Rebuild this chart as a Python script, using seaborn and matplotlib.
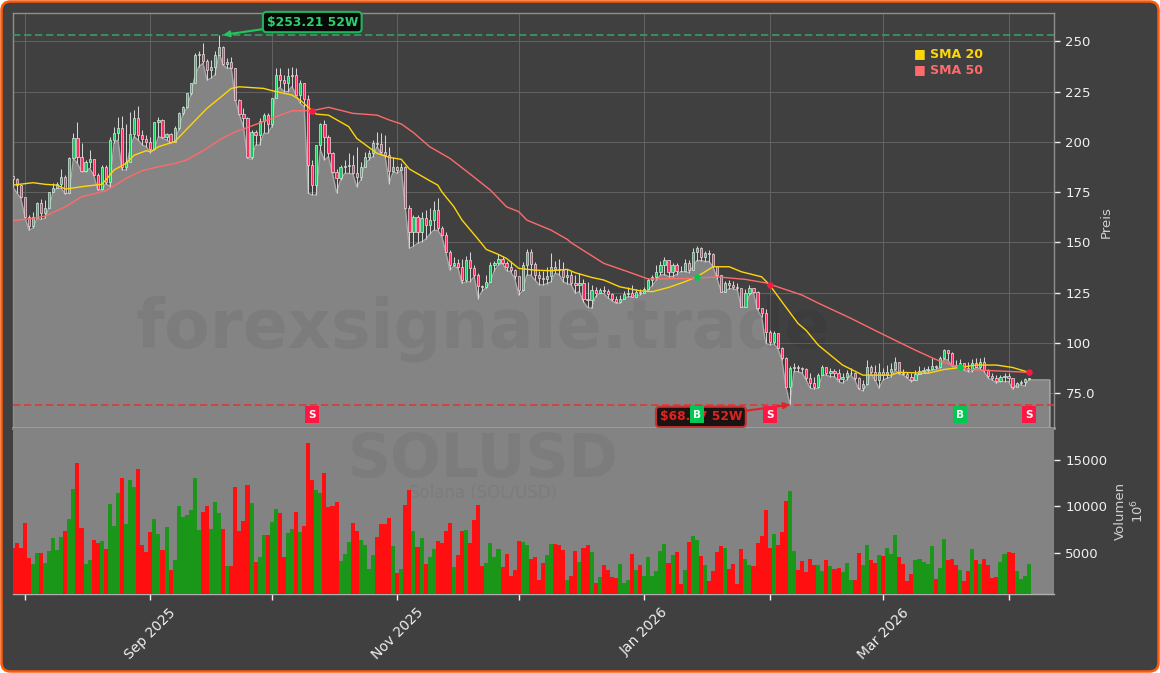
import matplotlib
matplotlib.use('Agg')
import matplotlib.pyplot as plt
import matplotlib.dates as mdates
from matplotlib.patches import FancyBboxPatch
from matplotlib.transforms import IdentityTransform
import numpy as np
import pandas as pd
import seaborn as sns

# daily candles
start_date = '2025-07-29'
first_open = 183.0

closes = [
    181.5, 178.5, 172.4, 162.8, 158.1, 162.5, 169.4, 164.5, 167.0, 175.2,
    177.2, 179.0, 182.7, 174.7, 191.8, 201.7, 192.6, 185.7, 189.8, 191.3,
    183.5, 176.4, 187.6, 180.2, 200.9, 204.2, 207.0, 187.5, 190.0, 204.0,
    212.0, 203.5, 201.5, 199.8, 196.7, 209.7, 210.8, 202.6, 203.7, 200.0,
    206.7, 214.2, 217.2, 224.1, 229.1, 243.2, 243.8, 240.4, 235.7, 237.0,
    243.0, 247.3, 238.7, 239.9, 236.6, 220.8, 213.8, 211.7, 192.3, 205.0,
    203.4, 210.5, 213.4, 208.9, 221.6, 233.3, 230.8, 229.1, 232.8, 233.3,
    223.3, 229.1, 221.1, 188.5, 178.5, 198.4, 208.9, 202.6, 194.3, 185.2,
    182.2, 187.6, 188.1, 188.5, 184.3, 182.7, 187.6, 192.6, 194.3, 199.3,
    199.0, 195.2, 193.5, 185.7, 187.6, 186.0, 187.6, 166.9, 155.3, 162.8,
    155.3, 162.0, 158.5, 161.0, 166.0, 157.0, 153.6, 145.4, 138.7, 139.9,
    137.6, 131.3, 141.2, 137.1, 133.7, 128.4, 127.6, 130.4, 138.7, 139.6,
    142.0, 139.6, 137.9, 136.2, 133.4, 126.3, 138.7, 145.4, 139.2, 133.7,
    132.1, 131.8, 133.4, 137.9, 136.6, 136.2, 132.6, 133.6, 129.6, 128.8,
    129.6, 122.1, 121.6, 126.3, 124.6, 126.3, 126.0, 124.3, 122.1, 120.5,
    122.1, 124.3, 124.6, 123.0, 125.1, 124.6, 126.6, 131.3, 132.9, 135.4,
    138.7, 141.5, 135.4, 138.7, 135.9, 135.7, 139.9, 136.2, 145.4, 147.0,
    142.5, 144.9, 144.2, 138.2, 133.7, 125.5, 129.6, 128.8, 127.6, 127.1,
    117.7, 124.6, 127.1, 125.5, 117.2, 114.7, 105.6, 100.6, 104.7, 97.3,
    92.3, 78.2, 87.3, 88.2, 87.3, 86.8, 82.4, 79.9, 78.3, 84.0,
    88.2, 85.2, 86.2, 85.2, 81.9, 83.2, 84.9, 85.2, 82.4, 77.5,
    79.6, 88.2, 85.7, 81.6, 85.7, 84.0, 85.7, 86.8, 90.6, 84.9,
    84.5, 82.9, 81.6, 84.5, 86.2, 86.5, 86.8, 88.5, 87.8, 92.3,
    96.7, 94.9, 89.0, 88.5, 89.8, 87.3, 86.5, 90.1, 88.2, 90.6,
    86.5, 83.6, 82.4, 81.3, 82.9, 83.6, 82.4, 78.3, 80.3, 80.8,
    81.9, 82.4,
]

highs = [
    183, 182.2, 178.5, 172.7, 163.6, 165.3, 170.2, 171.6, 171, 175.2,
    179.4, 180.2, 186.3, 183.5, 192.6, 204.6, 209.7, 199.3, 191, 196,
    191.3, 184.3, 188.5, 188.5, 202.2, 207.6, 212.2, 212.9, 209, 215,
    215.8, 217.8, 205.9, 203.4, 202.6, 210, 212.5, 211.2, 204.2, 204.2,
    207.9, 215, 217.8, 224.5, 229.1, 244, 245, 249, 241, 240.7,
    245.3, 253.21, 247.7, 241.5, 242, 236.6, 221.2, 216.7, 212.2, 205.9,
    205.9, 211.7, 214.2, 214.2, 221.6, 236.6, 236.6, 233.3, 236.6, 237.4,
    236.6, 230.8, 229.1, 223.3, 191, 198.4, 209.5, 210.9, 203.4, 195.2,
    186.5, 188.5, 191, 194.3, 193.5, 197.6, 190, 195.2, 196, 200.9,
    205, 204.2, 203.4, 197.6, 192.6, 188, 189.3, 188.1, 168.6, 163.6,
    163.6, 165, 166, 167, 170.6, 171.9, 158, 155, 146, 142.9,
    142, 142, 143, 145, 139, 135, 129, 134, 140.5, 141,
    144.2, 143, 141, 141, 137, 132, 140.5, 146.7, 146.7, 140.4,
    136, 136, 138, 144.9, 141, 142, 140.4, 137, 136, 134,
    135, 132, 130.5, 128.8, 127.6, 127.5, 128.5, 126.6, 125, 123.5,
    124, 126, 127.8, 128.8, 127, 127, 128, 132.5, 134, 139,
    141, 142.8, 140, 140, 140, 138.5, 142, 141.5, 147, 148.3,
    147.5, 145.5, 146, 144.5, 135, 134, 131, 131.5, 131, 130,
    127.5, 127, 128.7, 127.5, 126, 116, 117, 106.5, 106, 105,
    98, 93, 88.5, 89.8, 89, 88.2, 87.3, 84.9, 83.2, 84.9,
    89, 87.3, 87.3, 86.8, 86.8, 84.9, 86.5, 87.3, 85.7, 83.2,
    81.6, 91.5, 89, 89, 89.8, 87.3, 89, 89.8, 93, 89.8,
    86.8, 85.7, 84.9, 86.5, 88.5, 87.8, 88.5, 92.3, 89, 93.4,
    97.2, 96.4, 95.4, 91.5, 91.8, 89.8, 90.6, 91.8, 92.3, 92.3,
    92.8, 86.8, 84.9, 84, 84, 84.9, 85.2, 81.9, 80.8, 81.6,
    82.4, 82.8,
]

lows = [
    177.7, 174.7, 171.9, 162.8, 156.1, 157, 162, 161.4, 162, 167.7,
    175.2, 176.9, 176.9, 174, 174.4, 191.8, 189.3, 185.2, 185.2, 186.8,
    183.5, 176, 176, 179.3, 177.7, 199.3, 200.9, 186, 186, 196.8,
    202.6, 200.9, 198.4, 197.6, 194.6, 195.9, 202.6, 201.8, 200.9, 199.6,
    200.1, 205.9, 213.4, 216.7, 223.3, 232.4, 237.4, 239.1, 230.8, 231.6,
    233.3, 244, 238.2, 236.6, 236.6, 220.8, 213.4, 207.6, 191.8, 191.3,
    198.4, 198.4, 204.2, 204.2, 207.6, 225.8, 227.1, 225, 225, 227.5,
    223.3, 219.2, 217.5, 174.4, 173.6, 173.6, 196, 191, 192.6, 184.3,
    174.7, 181, 184.3, 184.3, 184, 177.7, 181, 189.3, 191, 192.6,
    197.6, 194.3, 192.6, 179.3, 185.2, 184.3, 186, 166.4, 147, 148,
    149.5, 150.3, 151.5, 154, 156, 156, 153, 145, 136.2, 138.2,
    137.2, 129.6, 130.4, 130.4, 133, 122.1, 126, 127.3, 130.4, 136,
    138.7, 139.5, 136, 135.4, 132, 123.8, 126, 133.7, 133.7, 131.3,
    129, 128.8, 129.5, 130.4, 134.6, 134, 130.4, 129.5, 128.8, 124.6,
    125.5, 120.5, 117.7, 117.2, 123, 124.6, 124.6, 122.5, 121, 119.8,
    119.7, 122, 123, 123, 123.8, 123.8, 125, 126.3, 128.5, 131.3,
    133.7, 134, 133, 133, 134, 135.4, 135.4, 135, 137.9, 140.9,
    141, 140.5, 140.5, 137.9, 132, 125.5, 125.5, 127, 126.8, 126.3,
    117.7, 118, 124, 124.6, 116.3, 113, 99.8, 99, 99.5, 97.3,
    91.5, 78.2, 69.3, 85.7, 85.7, 84.9, 81.6, 77.5, 77, 77.5,
    84, 84, 83.2, 83.2, 80.8, 79.9, 81.6, 84, 81.6, 77,
    76.2, 79.1, 84.9, 81.6, 77.5, 81.6, 82.4, 83.2, 86.5, 84.5,
    84, 82.5, 80.8, 81.6, 84.9, 84.9, 85.7, 86.5, 86.8, 87.5,
    91.8, 91.5, 88.5, 88, 87.8, 86.5, 85.7, 85.7, 87.9, 87,
    85.7, 82.4, 81.6, 79.9, 80.8, 80.8, 80.8, 77, 79.1, 79.1,
    78.6, 81.6,
]

volumes = [
    5540, 6080, 5540, 8250, 4420, 3770, 4930, 4930, 3845, 5180,
    6590, 5290, 6700, 7350, 8650, 11895, 14750, 7670, 3770, 4210,
    6370, 6080, 6260, 5400, 10270, 7890, 11460, 13085, 8105, 12870,
    12110, 14060, 5830, 5070, 7240, 8650, 7020, 5290, 7780, 3120,
    4210, 10050, 8860, 9080, 9620, 13085, 7455, 9405, 10050, 7560,
    10490, 9300, 7560, 3560, 3560, 12110, 7350, 8430, 12330, 10380,
    3990, 4530, 6915, 6915, 8320, 9730, 9300, 4530, 7130, 7560,
    9405, 7240, 7890, 16875, 12870, 11790, 11460, 13630, 9945, 10050,
    10490, 4100, 4855, 6155, 8210, 7350, 6370, 5830, 3230, 4750,
    6700, 8105, 8105, 8755, 5720, 2800, 3230, 10160, 11790, 7350,
    5610, 6590, 3770, 4530, 5400, 6260, 6050, 7350, 8210, 3450,
    4750, 7350, 7455, 6050, 8540, 10160, 3560, 3880, 6050, 4530,
    5400, 3450, 4855, 2470, 3120, 6260, 6155, 5830, 4315, 4530,
    2040, 3880, 4750, 5940, 5940, 5830, 5290, 2040, 2470, 5180,
    3990, 5505, 5830, 5070, 1715, 2365, 3665, 3120, 2365, 2255,
    3770, 1715, 2040, 4855, 3120, 3665, 2470, 4530, 2470, 3015,
    5180, 5940, 3880, 4750, 5070, 1605, 3120, 6155, 6805, 6370,
    4640, 3665, 1930, 3015, 5070, 5720, 5505, 3230, 3770, 1605,
    5400, 4315, 3665, 3560, 6050, 6805, 9620, 5505, 7020, 5830,
    7240, 10595, 11680, 5180, 3120, 4100, 2905, 4315, 3665, 3665,
    3015, 4210, 3560, 3230, 3340, 2905, 3880, 2040, 2040, 4965,
    3665, 5830, 4210, 3880, 4750, 4640, 5505, 4855, 6915, 4530,
    3770, 1930, 2690, 4210, 4315, 3990, 3770, 5720, 2150, 3340,
    6480, 4210, 4315, 3665, 3120, 1930, 3015, 5400, 4210, 3770,
    4315, 3665, 2255, 2365, 3990, 4855, 5070, 4965, 3015, 2150,
    2470, 3770,
]

# r = falling day, g = rising day
directions = list(
    "rrrrrggrgg" "gggrggrrgg" "rrgrgggrgg" "grrrrggrgr" "gggggggrrg"
    "ggrgrrrrrg" "rggrggrrgg" "rgrrrggrrr" "rgggrrgggg" "rrrrgrgrrg"
    "rgrggrrrrg" "rrgrrrrggg" "grrrrrggrr" "rrggrrrgrr" "grrgrgrrrr"
    "gggrgrgggg" "ggrgrrgrgg" "rgrrrrgrrr" "rggrrrrrgr" "rrggrrrrrg"
    "grgrrgggrr" "ggrrgrgggr" "rrrgggggrg" "grrrgrrgrg" "rrrrggrrgg"
    "gg"
)

# moving averages, read at the bends of the lines (index = day number)
sma20_idx = [0, 5, 8, 11, 13, 17, 22, 23, 25, 28, 30, 33, 34, 36, 40, 44, 48, 51, 54, 56,
             62, 64, 69, 71, 74, 75, 78, 83, 85, 90, 93, 96, 98, 103, 105, 106, 109, 111, 115, 117,
             120, 122, 125, 129, 133, 137, 139, 143, 146, 150, 155, 158, 162, 166, 169, 173, 177, 180, 185, 187,
             190, 194, 196, 199, 205, 210, 217, 219, 226, 230, 234, 238, 243, 247, 251]
sma20 = [178.5, 179.7, 178.9, 178.5, 176.5, 177.7, 178.9, 181, 186, 189.3, 193.4, 195.6, 195.1, 197.6, 200.1, 208.4, 216.7, 221.6, 226.6, 227.4,
         226.6, 225.5, 223.3, 220.8, 215.5, 213.8, 213.3, 207.6, 201.7, 194.3, 192.3, 191.3, 186.5, 180.7, 178.5, 175.2, 167.7, 161.1, 151.5, 146.5,
         144, 142, 137.1, 136.2, 135.9, 136.6, 134.9, 132.6, 131.3, 127.9, 125.9, 125.5, 127.6, 130.4, 132.9, 137.9, 137.9, 135.4, 132.9, 128.8,
         120.5, 109.7, 106.25, 98.9, 89, 84, 84, 85.4, 84.9, 86.8, 87.8, 89, 89, 87.8, 85.4]

sma50_idx = [0, 5, 8, 13, 17, 23, 28, 32, 36, 40, 43, 48, 51, 55, 59, 64, 69, 74, 78, 84,
             90, 93, 96, 99, 103, 108, 113, 118, 122, 125, 127, 133, 137, 138, 146, 152, 157, 168, 174, 181,
             186, 195, 199, 207, 213, 218, 223, 228, 232, 236, 242, 251]
sma50 = [160.8, 162, 163.1, 167.7, 172.7, 175.7, 181.8, 185.7, 187.6, 189.3, 191, 196.8, 200.9, 205, 207.9, 211.7, 215.5, 215.5, 217.2, 214.2,
         213.3, 210.9, 208.9, 204.6, 197.6, 191.8, 184, 176, 167.7, 165.3, 161.1, 156.1, 151.5, 149.8, 139.6, 135.4, 131.8, 132.1, 132.9, 131.6,
         129.9, 123.8, 119.8, 112.3, 106.25, 101.3, 96.4, 91.8, 89, 86.8, 86.2, 85.4]

# signals: day number, price on the sma cross, type
signal_idx = [74, 169, 187, 234, 251]
signal_price = [215.5, 132.9, 128.8, 87.8, 85.4]
signal_type = ['S', 'B', 'S', 'B', 'S']

year_high = 253.21
year_low = 69.3

month_ticks = ['2025-08-01', '2025-09-01', '2025-10-01', '2025-11-01', '2025-12-01',
               '2026-01-01', '2026-02-01', '2026-03-01', '2026-04-01']
month_labels = ['', 'Sep 2025', '', 'Nov 2025', '', 'Jan 2026', '', 'Mar 2026', '']
price_ticks = [75, 100, 125, 150, 175, 200, 225, 250]
price_labels = ['75.0', '100', '125', '150', '175', '200', '225', '250']
volume_ticks = [5000, 10000, 15000]

BG = '#404040'
AREA = '#878787'
TXT = '#f0f0f0'
GRID = '#636363'
UP = '#19c95f'
DOWN = '#ff2d62'

sns.set_theme(style='dark')
plt.rcParams['font.family'] = 'DejaVu Sans'

opens = [first_open] + closes[:-1]
dates = pd.date_range(start_date, periods=len(closes), freq='D')
xs = mdates.date2num(dates)
df = pd.DataFrame({'x': xs, 'open': opens, 'close': closes, 'high': highs, 'low': lows,
                   'volume': volumes, 'dir': directions})

W, H = 1160, 673
fig = plt.figure(figsize=(W / 100, H / 100), dpi=100, facecolor='white')
L, R = 12.7, 1054.3
ax = fig.add_axes([L / W, (H - 428) / H, (R - L) / W, 415 / H])
ax_vol = fig.add_axes([L / W, (H - 594.3) / H, (R - L) / W, 166.3 / H])

# rounded orange frame around everything
frame = FancyBboxPatch((1.5, 1.5), W - 3, H - 3, boxstyle='round,pad=0,rounding_size=9',
                       transform=IdentityTransform(), facecolor=BG, edgecolor='#ff5a0a',
                       linewidth=1.8, zorder=-10)
fig.add_artist(frame)

xmin, xmax = xs[0], xs[0] + 257.3
area_end = xs[0] + 256.2

# --- price panel ---
ax.set_facecolor(BG)
ax.set_axisbelow(True)
ax.grid(True, color=GRID, linewidth=0.7)
ax.fill_between(np.append(xs, area_end), np.append(lows, lows[-1]), 40,
                color=AREA, alpha=0.97, linewidth=0, zorder=1)
ax.plot(np.append(xs, [area_end, area_end]), np.append(lows, [lows[-1], 57]),
        color='#a8a8a8', linewidth=1, zorder=1.5)

ax.text(0.4515, 0.2386, 'forexsignale.trade', transform=ax.transAxes, ha='center', va='center',
        fontsize=48, fontweight='bold', color='black', alpha=0.055, zorder=2)

# candles
ax.vlines(df['x'], df['low'], df['high'], color='#d4d4d4', linewidth=0.75, zorder=3)
body_colors = [UP if c >= o else DOWN for o, c in zip(opens, closes)]
ax.bar(df['x'], (df['close'] - df['open']).abs(), bottom=df[['open', 'close']].min(axis=1),
       width=0.55, color=body_colors, edgecolor='#e4e4e4', linewidth=0.5, zorder=4)

# moving averages
sns.lineplot(x=xs[sma20_idx], y=sma20, color='#ffd60a', linewidth=1, estimator=None, ax=ax, zorder=5)
sns.lineplot(x=xs[sma50_idx], y=sma50, color='#ff6b6b', linewidth=1, estimator=None, ax=ax, zorder=5)

# 52 week lines
ax.axhline(year_high, color='#3a9c62', linestyle='--', linewidth=1.2, dashes=(4.4, 2.2), zorder=6)
ax.axhline(year_low, color='#dc3a3a', linestyle='--', linewidth=1.2, dashes=(4.4, 2.2), zorder=6)

ax.annotate(f'${year_high:.2f} 52W', xy=(xs[52], year_high), xytext=(xs[74], 259.6),
            ha='center', va='center', fontsize=8.8, fontweight='bold', color='#2fd06f', zorder=9,
            bbox=dict(boxstyle='round,pad=0.3', fc='#050a07', ec='#22b45c', lw=1.5),
            arrowprops=dict(arrowstyle='-|>', color='#22c55e', lw=1.5, shrinkA=0, shrinkB=0))
ax.annotate('$68.97 52W', xy=(xs[192], year_low), xytext=(xs[170], 63.2),
            ha='center', va='center', fontsize=8.8, fontweight='bold', color='#e02424', zorder=9,
            bbox=dict(boxstyle='round,pad=0.3', fc='#1b1212', ec='#c93030', lw=1.5),
            arrowprops=dict(arrowstyle='-|>', color='#e02424', lw=1.5, shrinkA=0, shrinkB=0))

# signals: dot on the cross and letter box along the bottom
for i, p, t in zip(signal_idx, signal_price, signal_type):
    col = '#ff1744' if t == 'S' else '#00c853'
    ax.scatter(xs[i], p, s=22, color=col, zorder=7, linewidths=0)
    ax.text(xs[i], 64.4, t, ha='center', va='center', fontsize=7.5, fontweight='bold', color='white',
            zorder=10, bbox=dict(boxstyle='square,pad=0.3', fc=col, ec='none'))

# legend as coloured text
ax.text(914, H - 54, '■ SMA 20', transform=IdentityTransform(), fontsize=9, fontweight='bold',
        color='#ffd60a', va='center', ha='left', zorder=9)
ax.text(914, H - 70, '■ SMA 50', transform=IdentityTransform(), fontsize=9, fontweight='bold',
        color='#ff6b6b', va='center', ha='left', zorder=9)

ax.set_xlim(xmin, xmax)
ax.set_ylim(57.7, 264.1)
ax.set_xticks(mdates.date2num(pd.to_datetime(month_ticks)))
ax.set_xticklabels([])
ax.set_yticks(price_ticks)
ax.set_yticklabels(price_labels)
ax.yaxis.tick_right()
ax.tick_params(axis='x', length=0)
ax.tick_params(axis='y', colors=TXT, labelsize=9.5, length=4, width=1, direction='out', pad=4, right=True)
ax.set_ylabel('Preis', color='#d0d0d0', fontsize=9.5)
ax.yaxis.set_label_position('right')
ax.yaxis.set_label_coords(1.0438, 0.496)
for name, sp in ax.spines.items():
    sp.set_color('#8f8f8f')
    sp.set_linewidth(1)
ax.spines['bottom'].set_color('#a4a4a4')
ax.spines['bottom'].set_linewidth(1.8)

# --- volume panel ---
ax_vol.set_facecolor('#838383')
sns.barplot(data=df, x='x', y='volume', hue='dir', palette={'r': '#ff0f0f', 'g': '#1a9618'},
            native_scale=True, dodge=False, width=1, saturation=1, errorbar=None, legend=False,
            linewidth=0, ax=ax_vol, zorder=3)
ax_vol.text(0.4515, 0.807, 'SOLUSD', transform=ax_vol.transAxes, ha='center', va='center',
            fontsize=43, fontweight='bold', color='black', alpha=0.05, zorder=2)
ax_vol.text(0.4515, 0.61, 'Solana (SOL/USD)', transform=ax_vol.transAxes, ha='center', va='center',
            fontsize=12, color='black', alpha=0.05, zorder=2)

ax_vol.set_xlim(xmin, xmax)
ax_vol.set_ylim(490, 18500)
ax_vol.set_xticks(mdates.date2num(pd.to_datetime(month_ticks)))
ax_vol.set_xticklabels(month_labels, rotation=45, ha='center', color=TXT, fontsize=10)
ax_vol.set_yticks(volume_ticks)
ax_vol.set_yticklabels(['5000', '10000', '15000'])
ax_vol.yaxis.tick_right()
ax_vol.tick_params(axis='x', colors=TXT, length=4, width=1, bottom=True, pad=4)
ax_vol.tick_params(axis='y', colors=TXT, labelsize=9.5, length=4, width=1, right=True, pad=4)
ax_vol.set_xlabel('')
ax_vol.set_ylabel('Volumen\n$10^{6}$', color='#d0d0d0', fontsize=9.5, rotation=90, ha='center', va='center')
ax_vol.yaxis.set_label_position('right')
ax_vol.yaxis.set_label_coords(1.0572, 0.5)
for name, sp in ax_vol.spines.items():
    sp.set_visible(False)
ax_vol.spines['bottom'].set_visible(True)
ax_vol.spines['bottom'].set_color('#b0b0b0')
ax_vol.spines['bottom'].set_linewidth(1)

fig.savefig('out.png', dpi=100, facecolor='white')
